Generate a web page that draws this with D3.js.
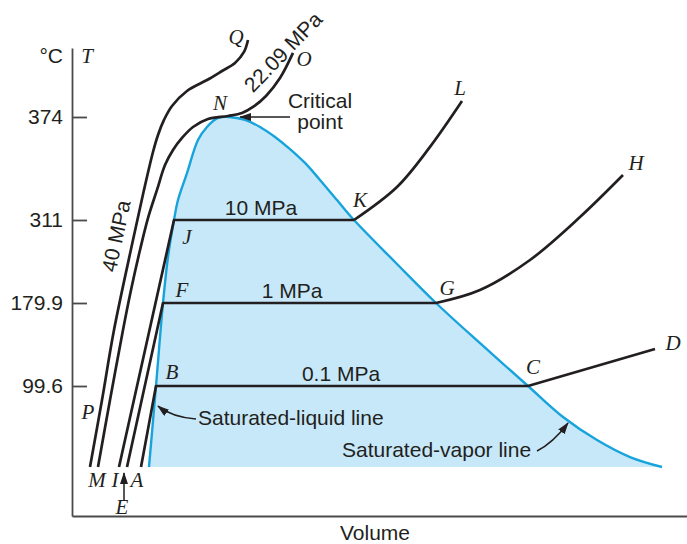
<!DOCTYPE html>
<html>
<head>
<meta charset="utf-8">
<script src="https://cdn.jsdelivr.net/npm/d3@7"></script>
<style>
  body { margin: 0; background: #fff; }
  svg { display: block; }
  .sans { font-family: "Liberation Sans", Arial, sans-serif; font-size: 21px; fill: #231f20; }
  .pt { font-family: "Liberation Serif", "Times New Roman", serif; font-style: italic; font-size: 21px; fill: #231f20; }
</style>
</head>
<body>
<div id="chart"></div>
<script>
// T-v diagram of water, schematic. volume in arbitrary units, temperature in degC

var tickTemps = [99.6, 179.9, 311, 374];
var tickLabels = ["99.6", "179.9", "311", "374"];
// temperature axis is not linear, these are the break points of the scale
var tempBreaks = [-30, 20, 99.6, 179.9, 311, 374, 416];

// saturation dome [volume, temperature]
var satLiquid = [[77, 20], [84, 99.6], [91, 179.9], [96, 252.6], [102, 311], [106, 323.2], [115, 339.7],
  [126, 359.9], [135, 367.9], [146, 373.4], [157, 374]];
var satVapor = [[157, 374], [173, 372.2], [188, 367.9], [203, 361.8], [218, 354.4], [233, 345.9], [248, 335.5],
  [265, 323.2], [282, 311], [323, 244.7], [364, 179.9], [410, 139.3], [456, 99.6], [491, 69.1], [525, 46.5],
  [558, 29.8], [590, 20]];

// isobars: compressed liquid leg, then superheated vapor leg
var p01Liquid = [[69, 20], [84, 99.6]];
var p01Vapor = [[456, 99.6], [583, 135.4]];
var p1Liquid = [[55, 20], [91, 179.9]];
var p1Vapor = [[364, 179.9], [408, 200.4], [458, 247.8], [508, 312.8], [551, 338.5]];
var p10Liquid = [[47, 20], [102, 311]];
var p10Vapor = [[282, 311], [325, 331.2], [358, 355.7], [390, 383.7]];
var p2209 = [[26, 20], [38, 85.8], [51, 153.8], [59, 200.4], [68, 263.6], [76, 312.2], [85, 329.4], [93, 344.6],
  [101, 353.8], [110, 361.2], [121, 367.9], [136, 372.8], [156, 374.6], [170, 376.4], [181, 380.1], [194, 386.8],
  [208, 397.7], [221, 413]];
var p40 = [[18, 20], [30, 85.8], [42, 153.8], [61, 279.4], [72, 329.4], [81, 352.6], [86, 363], [92, 372.2],
  [100, 380.7], [115, 389.8], [135, 396.5], [150, 402], [163, 406.9], [172, 413.6], [176, 420.9]];

var isobarNames = ["0.1 MPa", "1 MPa", "10 MPa"];
var isobarNameAt = [[269, 99.6], [220, 179.9], [189, 311]];

var stateLabels = [["Q", 164, 418.4], ["O", 232, 405], ["N", 148, 378.3], ["L", 388, 387.4], ["H", 564, 341.6],
  ["K", 288, 319], ["G", 375, 192.5], ["J", 115, 273.1], ["F", 110, 189.4], ["B", 100, 106.4], ["C", 461, 111.2],
  ["D", 601, 134.4], ["P", 16, 67.2], ["M", 25, -0.4], ["I", 43, -0.4], ["A", 65, -0.4], ["E", 50, -28]];

var width = 687, height = 544;
var margin = {top: 48, right: 0, bottom: 28, left: 72};

var svg = d3.select('#chart').append('svg')
  .attr('width', width)
  .attr('height', height);

var x = d3.scaleLinear().domain([0, 615]).range([margin.left, width - margin.right]);
var y = d3.scaleLinear().domain(tempBreaks).range([516, 467, 386, 303, 220, 117, margin.top]);

var ink = '#231f20';

var defs = svg.append('defs');
defs.append('marker')
  .attr('id', 'arrow')
  .attr('viewBox', '0 0 12 8')
  .attr('refX', 11).attr('refY', 4)
  .attr('markerWidth', 12).attr('markerHeight', 8)
  .attr('markerUnits', 'userSpaceOnUse')
  .attr('orient', 'auto')
  .append('path').attr('d', 'M0,0L12,4L0,8Z').attr('fill', ink);

var smooth = d3.line().x(function(d) { return x(d[0]); }).y(function(d) { return y(d[1]); })
  .curve(d3.curveCatmullRom.alpha(0.5));
var straight = d3.line().x(function(d) { return x(d[0]); }).y(function(d) { return y(d[1]); });

// dome
var dome = satLiquid.concat(satVapor.slice(1));
svg.append('path')
  .attr('d', smooth(dome) + 'Z')
  .attr('fill', '#c7e8f8');
svg.append('path')
  .attr('d', smooth(dome))
  .attr('fill', 'none')
  .attr('stroke', '#17a3dc')
  .attr('stroke-width', 2.4);

// axes
var yAxis = svg.append('g')
  .attr('transform', 'translate(' + margin.left + ',0)')
  .call(d3.axisLeft(y).tickValues(tickTemps).tickFormat(function(d, i) { return tickLabels[i]; })
    .tickSize(-15).tickSizeOuter(0).tickPadding(9));
var xAxis = svg.append('g')
  .attr('transform', 'translate(0,516)')
  .call(d3.axisBottom(x).tickValues([]).tickSizeOuter(0));
svg.selectAll('.domain, .tick line').attr('stroke', '#4a4a4a').attr('stroke-width', 1.8);
yAxis.attr('font-size', null).attr('font-family', null);
yAxis.selectAll('.tick text').attr('class', 'sans');

svg.append('text').attr('class', 'sans').attr('x', 63).attr('y', 63).attr('text-anchor', 'end').text('°C');
svg.append('text').attr('class', 'pt').attr('x', 87).attr('y', 63).attr('text-anchor', 'middle').text('T');
svg.append('text').attr('class', 'sans').attr('x', x(303)).attr('y', 540).attr('text-anchor', 'middle').text('Volume');

// isobars
var isobars = [[p01Liquid, p01Vapor], [p1Liquid, p1Vapor], [p10Liquid, p10Vapor]];
var g = svg.append('g')
  .attr('fill', 'none')
  .attr('stroke', ink)
  .attr('stroke-width', 2.7)
  .attr('stroke-linejoin', 'round');

isobars.forEach(function(p) {
  g.append('path').attr('d', straight(p[0].concat([p[1][0]])));
  g.append('path').attr('d', smooth(p[1]));
});
g.append('path').attr('d', smooth(p2209));
g.append('path').attr('d', smooth(p40));

svg.selectAll('.isobar-name')
  .data(isobarNames)
  .enter().append('text')
  .attr('class', 'sans isobar-name')
  .attr('x', function(d, i) { return x(isobarNameAt[i][0]); })
  .attr('y', function(d, i) { return y(isobarNameAt[i][1]) - 5; })
  .attr('text-anchor', 'middle')
  .text(function(d) { return d; });

svg.append('text').attr('class', 'sans')
  .attr('transform', 'translate(' + x(44) + ',' + y(285.7) + ') rotate(-78)')
  .attr('text-anchor', 'middle').attr('dy', '0.35em')
  .text('40 MPa');
svg.append('text').attr('class', 'sans')
  .attr('transform', 'translate(' + x(211) + ',' + y(413.6) + ') rotate(-46)')
  .attr('text-anchor', 'middle').attr('dy', '0.35em')
  .text('22.09 MPa');

// state points
svg.selectAll('.state')
  .data(stateLabels)
  .enter().append('text')
  .attr('class', 'pt state')
  .attr('x', function(d) { return x(d[1]); })
  .attr('y', function(d) { return y(d[2]); })
  .attr('text-anchor', 'middle')
  .text(function(d) { return d[0]; });

// annotations
var crit = svg.append('text').attr('class', 'sans').attr('text-anchor', 'middle');
crit.append('tspan').attr('x', x(248)).attr('y', y(379.5)).text('Critical');
crit.append('tspan').attr('x', x(248)).attr('y', y(366.7)).text('point');

function arrow(pts, w) {
  var p = d3.path();
  p.moveTo(x(pts[0][0]), y(pts[0][1]));
  if (pts.length == 3) p.quadraticCurveTo(x(pts[1][0]), y(pts[1][1]), x(pts[2][0]), y(pts[2][1]));
  else p.lineTo(x(pts[1][0]), y(pts[1][1]));
  svg.append('path')
    .attr('d', p.toString())
    .attr('fill', 'none')
    .attr('stroke', ink)
    .attr('stroke-width', w)
    .attr('marker-end', 'url(#arrow)');
}
arrow([[218, 374], [168, 374]], 1.6);
arrow([[124, 67.2], [100, 69.1], [86, 79.9]], 1.5);
arrow([[465, 35.7], [481, 43.6], [496, 63.2]], 1.5);
arrow([[52, -13.7], [52, 13.9]], 1.5);

svg.append('text').attr('class', 'sans').attr('x', x(126)).attr('y', y(61.3)).text('Saturated-liquid line');
svg.append('text').attr('class', 'sans').attr('x', x(270)).attr('y', y(29.8)).text('Saturated-vapor line');
</script>
</body>
</html>
